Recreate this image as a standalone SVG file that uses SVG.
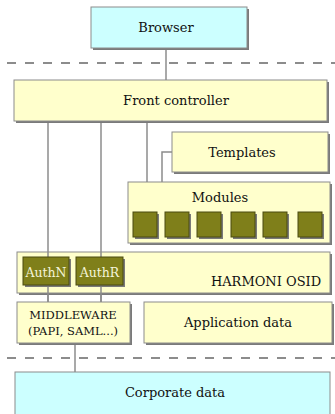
<svg xmlns="http://www.w3.org/2000/svg" width="335" height="414" viewBox="0 0 335 414">
<defs>
<style>
.box{stroke:#8c8c8c;stroke-width:1}
.y{fill:#ffffcc}
.c{fill:#ccffff}
.sh{fill:#7a7a7a}
.ol{fill:#7f7f1a;stroke:#4a4a10;stroke-width:1}
.t{font-family:"DejaVu Serif",serif;font-size:13px;fill:#111111;text-anchor:middle}
.tw{font-family:"DejaVu Serif",serif;font-size:12.5px;fill:#f4f4d8;text-anchor:middle}
.st{font-family:"DejaVu Serif",serif;font-size:11.5px;fill:#111111;text-anchor:middle}
.ln{stroke:#8c8c8c;stroke-width:1.5;fill:none}
.dash{stroke:#8c8c8c;stroke-width:2;stroke-dasharray:9 9;fill:none}
</style>
</defs>
<rect width="335" height="414" fill="#ffffff"/>
<g id="separators">
<line class="dash" x1="7" y1="63" x2="335" y2="63"/>
<line class="dash" x1="7" y1="358" x2="335" y2="358"/>
</g>
<g id="connectors">
<line class="ln" x1="166" y1="48" x2="166" y2="80"/>
<line class="ln" x1="48" y1="121" x2="48" y2="302"/>
<line class="ln" x1="101" y1="121" x2="101" y2="302"/>
<line class="ln" x1="147" y1="121" x2="147" y2="182"/>
<polyline class="ln" points="172,152 162,152 162,182"/>
<line class="ln" x1="75" y1="343" x2="75" y2="372"/>
</g>
<g id="browser">
<rect class="sh" x="93" y="9" width="156" height="41"/>
<rect class="box c" x="91" y="7" width="156" height="41"/>
<text class="t" x="166" y="32">Browser</text>
</g>
<g id="front-controller">
<rect class="sh" x="16" y="82" width="313" height="41"/>
<rect class="box y" x="14" y="80" width="313" height="41"/>
<text class="t" x="176" y="105">Front controller</text>
</g>
<g id="templates">
<rect class="sh" x="174" y="134" width="156" height="40"/>
<rect class="box y" x="172" y="132" width="156" height="40"/>
<text class="t" x="242" y="157">Templates</text>
</g>
<g id="modules">
<rect class="sh" x="130" y="184" width="202" height="61"/>
<rect class="box y" x="128" y="182" width="202" height="61"/>
<text class="t" x="220" y="202">Modules</text>
<rect class="sh" x="135" y="214" width="24" height="25"/>
<rect class="ol" x="133" y="212" width="24" height="25"/>
<rect class="sh" x="167" y="214" width="24" height="25"/>
<rect class="ol" x="165" y="212" width="24" height="25"/>
<rect class="sh" x="199" y="214" width="24" height="25"/>
<rect class="ol" x="197" y="212" width="24" height="25"/>
<rect class="sh" x="233" y="214" width="24" height="25"/>
<rect class="ol" x="231" y="212" width="24" height="25"/>
<rect class="sh" x="265" y="214" width="24" height="25"/>
<rect class="ol" x="263" y="212" width="24" height="25"/>
<rect class="sh" x="300" y="214" width="24" height="25"/>
<rect class="ol" x="298" y="212" width="24" height="25"/>
</g>
<g id="harmoni-osid">
<rect class="sh" x="19" y="254" width="313" height="41"/>
<rect class="box y" x="17" y="252" width="313" height="41"/>
<text class="t" x="266" y="286">HARMONI OSID</text>
</g>
<g id="connectors-over">
<line class="ln" x1="48" y1="252" x2="48" y2="302"/>
<line class="ln" x1="101" y1="252" x2="101" y2="302"/>
</g>
<g id="authn">
<rect class="sh" x="25" y="259" width="46" height="28"/>
<rect class="ol" x="23" y="257" width="46" height="28"/>
<text class="tw" x="46" y="277">AuthN</text>
</g>
<g id="authr">
<rect class="sh" x="78" y="259" width="47" height="28"/>
<rect class="ol" x="76" y="257" width="47" height="28"/>
<text class="tw" x="99.5" y="277">AuthR</text>
</g>
<g id="middleware">
<rect class="sh" x="19" y="304" width="113" height="41"/>
<rect class="box y" x="17" y="302" width="113" height="41"/>
<text class="st" x="73" y="319">MIDDLEWARE</text>
<text class="st" x="73" y="335">(PAPI, SAML...)</text>
</g>
<g id="application-data">
<rect class="sh" x="146" y="304" width="188" height="41"/>
<rect class="box y" x="144" y="302" width="188" height="41"/>
<text class="t" x="238" y="327">Application data</text>
</g>
<g id="corporate-data">
<rect class="box c" x="15" y="372" width="315" height="44"/>
<text class="t" x="175" y="397">Corporate data</text>
</g>
</svg>
